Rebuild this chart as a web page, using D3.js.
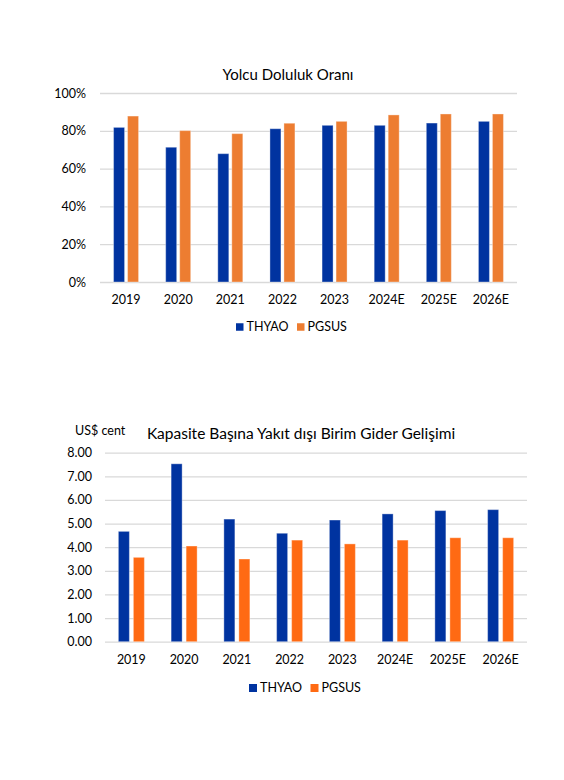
<!DOCTYPE html>
<html><head><meta charset="utf-8">
<script src="https://cdn.jsdelivr.net/npm/d3@7"></script>
<style>
html,body{margin:0;padding:0;background:#fff;}
svg{display:block;font-family:Lato,"Open Sans",sans-serif;}
</style></head>
<body><svg id="c" width="564" height="780"></svg>
<script>
const categories = ["2019","2020","2021","2022","2023","2024E","2025E","2026E"];
const seriesNames = ["THYAO","PGSUS"];
// Chart 1: Yolcu Doluluk Oranı (%)
const loadThyao = [81.8, 71.3, 67.9, 81.1, 82.9, 82.9, 84.1, 85.0];
const loadPgsus = [87.8, 80.1, 78.5, 84.0, 85.0, 88.4, 88.9, 88.9];
const loadTicks = [0, 20, 40, 60, 80, 100];
// Chart 2: Kapasite Başına Yakıt dışı Birim Gider (US$ cent)
const costThyao = [4.67, 7.53, 5.19, 4.59, 5.15, 5.41, 5.55, 5.59];
const costPgsus = [3.57, 4.05, 3.50, 4.30, 4.14, 4.30, 4.40, 4.40];
const costTicks = [0, 1, 2, 3, 4, 5, 6, 7, 8];

const svg = d3.select("#c");
const BLUE = "#0033A0";

function drawChart(o) {
  const g = svg.append("g");
  const x = d3.scaleBand().domain(categories).range([o.x0, o.x1]).paddingInner(0).paddingOuter(0);
  const y = d3.scaleLinear().domain(o.domain).range([o.y0, o.y1]);
  const sub = d3.scaleBand().domain(seriesNames).range([0, o.barW * 2 + o.gap]).paddingInner(o.gap / (o.barW + o.gap));
  // gridlines
  const yAxis = d3.axisLeft(y).tickValues(o.ticks).tickSize(-(o.x1 - o.x0)).tickPadding(o.x0 - o.labelX).tickFormat(o.fmt);
  const ga = g.append("g").attr("transform", `translate(${o.x0},0)`).call(yAxis);
  ga.select(".domain").remove();
  ga.selectAll(".tick line").attr("stroke", "#d9d9d9").attr("stroke-width", 1.3);
  ga.selectAll(".tick text").attr("fill", "#000").attr("font-size", o.fs).attr("font-family", "Lato, sans-serif");
  // bars
  const groupW = o.barW * 2 + o.gap;
  const vals = [o.a, o.b];
  const colors = [BLUE, o.orange];
  seriesNames.forEach((s, si) => {
    g.append("g").selectAll("rect").data(categories).join("rect")
      .attr("x", c => x(c) + x.bandwidth() / 2 - groupW / 2 + sub(s))
      .attr("width", sub.bandwidth())
      .attr("y", (c, i) => y(vals[si][i]))
      .attr("height", (c, i) => y(0) - y(vals[si][i]))
      .attr("fill", colors[si])
      .attr("stroke", "#fff").attr("stroke-opacity", 0.35).attr("stroke-width", 1);
  });
  // x axis labels
  const xa = g.append("g").attr("transform", `translate(0,${o.y0})`)
    .call(d3.axisBottom(x).tickSize(0).tickPadding(o.xPad));
  xa.select(".domain").remove();
  xa.selectAll(".tick text").attr("fill", "#000").attr("font-size", o.fs).attr("font-family", "Lato, sans-serif");
  // title
  g.append("text").attr("x", o.titleX).attr("y", o.titleY).attr("text-anchor", "middle")
    .attr("font-size", o.titleFs).attr("fill", "#000").text(o.title);
  // legend
  const lg = g.append("g").attr("transform", `translate(${o.legX},${o.legY})`);
  seriesNames.forEach((s, si) => {
    const lx = o.legOffsets[si];
    lg.append("rect").attr("x", lx).attr("y", -o.sq / 2).attr("width", o.sq).attr("height", o.sq).attr("fill", colors[si]);
    lg.append("text").attr("x", lx + o.sq + 3).attr("y", 0).attr("dy", "0.35em")
      .attr("font-size", o.fs).attr("fill", "#000").text(s);
  });
  return g;
}

drawChart({
  x0: 100, x1: 517, y0: 282, y1: 93, domain: [0, 100], ticks: loadTicks,
  fmt: d => d + "%", labelX: 86, fs: 12.5, barW: 11, gap: 3,
  a: loadThyao, b: loadPgsus, orange: "#ED7D31", xPad: 13,
  title: "Yolcu Doluluk Oranı", titleX: 288, titleY: 80, titleFs: 15,
  legX: 236, legY: 327, legOffsets: [0, 61], sq: 7.5
});

const g2 = drawChart({
  x0: 105, x1: 527, y0: 641.7, y1: 452.7, domain: [0, 8], ticks: costTicks,
  fmt: d3.format(".2f"), labelX: 92, fs: 12.5, barW: 11, gap: 4,
  a: costThyao, b: costPgsus, orange: "#FF6A13", xPad: 13,
  title: "Kapasite Başına Yakıt dışı Birim Gider Gelişimi", titleX: 301, titleY: 439, titleFs: 15.5,
  legX: 249, legY: 688, legOffsets: [0, 61.5], sq: 8
});
g2.append("text").attr("x", 75).attr("y", 435).attr("font-size", 12.5).attr("fill", "#000").text("US$ cent");
</script></body></html>
